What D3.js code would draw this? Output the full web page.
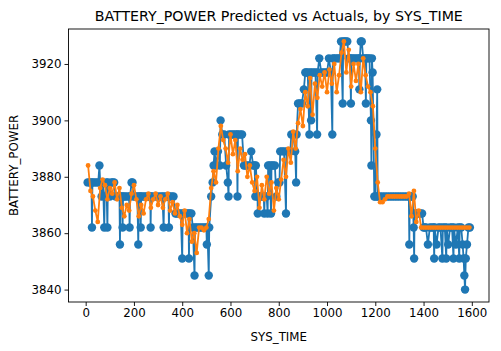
<!DOCTYPE html>
<html lang="en">
<head>
    <meta charset="UTF-8">
    <title>BATTERY_POWER Predicted vs Actuals</title>
</head>
<style>
    body { margin: 0; background: #fff; }
    text { font-family: "DejaVu Sans", sans-serif; fill: #000; }
</style>
<script src="https://cdn.jsdelivr.net/npm/d3@7"></script>
<body>
    <div id="graphic"></div>
</body>
<script>
    // actual BATTERY_POWER (blue)
    var actualTime = [
        8, 16, 24, 26, 28, 36, 44, 52, 57, 60,
        66, 72, 77, 79, 86, 90, 92, 100, 106, 112,
        118, 124, 132, 140, 142, 144, 150, 153, 155, 162,
        170, 180, 182, 184, 190, 194, 198, 206, 214, 218,
        220, 226, 228, 230, 238, 246, 254, 262, 268, 269,
        271, 280, 290, 300, 310, 318, 323, 325, 334, 343,
        345, 347, 356, 364, 372, 378, 386, 394, 400, 402,
        410, 418, 426, 428, 430, 438, 444, 451, 453, 460,
        468, 476, 484, 492, 500, 502, 504, 510, 512, 520,
        526, 530, 534, 540, 548, 556, 559, 566, 574, 582,
        589, 592, 594, 602, 610, 618, 626, 629, 631, 640,
        648, 656, 662, 670, 678, 686, 694, 700, 703, 705,
        712, 713, 715, 722, 730, 738, 740, 742, 750, 754,
        756, 762, 768, 770, 776, 784, 790, 798, 803, 806,
        814, 822, 830, 832, 840, 848, 852, 860, 868, 872,
        874, 880, 888, 896, 904, 910, 914, 920, 927, 929,
        934, 936, 944, 952, 959, 961, 968, 976, 984, 992,
        1000, 1008, 1016, 1022, 1024, 1030, 1038, 1046, 1052, 1058,
        1065, 1067, 1072, 1078, 1084, 1090, 1096, 1099, 1101, 1108,
        1116, 1124, 1132, 1134, 1136, 1140, 1144, 1150, 1158, 1161,
        1163, 1170, 1176, 1182, 1184, 1186, 1189, 1196, 1200, 1205,
        1208, 1210, 1212, 1220, 1230, 1240, 1250, 1260, 1270, 1280,
        1290, 1300, 1310, 1320, 1330, 1339, 1341, 1343, 1350, 1355,
        1359, 1361, 1363, 1370, 1378, 1386, 1394, 1400, 1405, 1410,
        1418, 1426, 1434, 1442, 1444, 1446, 1454, 1462, 1470, 1478,
        1480, 1488, 1494, 1496, 1502, 1510, 1518, 1524, 1526, 1534,
        1542, 1548, 1550, 1556, 1562, 1566, 1569, 1572, 1575, 1580,
        1586, 1592
    ];
    var actualPower = [
        3878, 3878, 3878, 3862, 3878, 3878, 3878, 3878, 3884, 3878,
        3873, 3878, 3862, 3873, 3878, 3862, 3878, 3873, 3878, 3878,
        3878, 3873, 3873, 3873, 3856, 3873, 3873, 3862, 3873, 3873,
        3873, 3873, 3862, 3873, 3878, 3878, 3873, 3873, 3873, 3856,
        3873, 3873, 3862, 3873, 3873, 3873, 3873, 3873, 3873, 3862,
        3873, 3873, 3873, 3873, 3873, 3873, 3862, 3873, 3873, 3873,
        3862, 3873, 3873, 3873, 3867, 3867, 3867, 3867, 3851, 3867,
        3867, 3867, 3867, 3851, 3867, 3867, 3862, 3845, 3862, 3862,
        3862, 3862, 3862, 3862, 3862, 3856, 3862, 3845, 3862, 3873,
        3878, 3884, 3889, 3884, 3889, 3884, 3900, 3895, 3895, 3884,
        3878, 3873, 3895, 3895, 3895, 3895, 3895, 3873, 3895, 3895,
        3895, 3884, 3884, 3884, 3884, 3889, 3884, 3884, 3873, 3884,
        3873, 3867, 3873, 3873, 3873, 3873, 3867, 3873, 3873, 3867,
        3884, 3884, 3867, 3884, 3884, 3884, 3873, 3878, 3878, 3889,
        3889, 3889, 3867, 3889, 3889, 3889, 3895, 3895, 3889, 3878,
        3895, 3906, 3906, 3906, 3911, 3917, 3917, 3917, 3895, 3917,
        3900, 3917, 3917, 3917, 3895, 3917, 3922, 3917, 3917, 3917,
        3917, 3922, 3917, 3895, 3922, 3922, 3922, 3922, 3922, 3928,
        3906, 3928, 3928, 3928, 3928, 3922, 3922, 3906, 3922, 3922,
        3922, 3922, 3922, 3911, 3922, 3928, 3928, 3922, 3922, 3906,
        3922, 3922, 3922, 3900, 3884, 3922, 3917, 3873, 3873, 3895,
        3911, 3873, 3873, 3873, 3873, 3873, 3873, 3873, 3873, 3873,
        3873, 3873, 3873, 3873, 3873, 3873, 3856, 3873, 3873, 3873,
        3862, 3851, 3867, 3867, 3867, 3867, 3867, 3862, 3862, 3862,
        3856, 3862, 3862, 3862, 3851, 3862, 3856, 3862, 3862, 3851,
        3862, 3862, 3851, 3862, 3856, 3862, 3862, 3851, 3862, 3856,
        3862, 3851, 3862, 3862, 3856, 3851, 3845, 3840, 3851, 3856,
        3862, 3862
    ];

    // predicted BATTERY_POWER (orange)
    var predictedTime = [
        10, 20, 30, 40, 50, 60, 70, 80, 90, 100,
        110, 120, 130, 140, 150, 160, 170, 180, 190, 200,
        210, 220, 230, 240, 250, 260, 270, 280, 290, 300,
        310, 320, 330, 340, 350, 360, 370, 380, 390, 400,
        410, 420, 430, 440, 450, 460, 470, 480, 490, 500,
        510, 520, 530, 540, 550, 560, 570, 580, 590, 600,
        610, 620, 630, 640, 650, 660, 670, 680, 690, 700,
        710, 720, 730, 740, 750, 760, 770, 780, 790, 800,
        810, 820, 830, 840, 850, 860, 870, 880, 890, 900,
        910, 920, 930, 940, 950, 960, 970, 980, 990, 1000,
        1010, 1020, 1030, 1040, 1050, 1060, 1070, 1080, 1090, 1100,
        1110, 1120, 1130, 1140, 1150, 1160, 1170, 1180, 1190, 1200,
        1210, 1220, 1230, 1240, 1250, 1260, 1270, 1280, 1290, 1300,
        1310, 1320, 1330, 1340, 1350, 1360, 1370, 1380, 1390, 1400,
        1410, 1420, 1430, 1440, 1450, 1460, 1470, 1480, 1490, 1500,
        1510, 1520, 1530, 1540, 1550, 1560, 1570, 1580, 1590
    ];
    var predictedPower = [
        3884, 3875, 3873, 3868, 3864, 3876, 3879, 3877, 3872, 3876,
        3874, 3878, 3872, 3876, 3869, 3866, 3870, 3868, 3874, 3877,
        3872, 3866, 3870, 3867, 3872, 3874, 3869, 3872, 3874, 3870,
        3873, 3869, 3872, 3874, 3868, 3871, 3867, 3870, 3866, 3863,
        3868, 3860, 3865, 3857, 3860, 3853, 3862, 3862, 3861, 3862,
        3865, 3876, 3882, 3878, 3890, 3898, 3893, 3890, 3885, 3895,
        3888, 3893, 3882, 3890, 3886, 3888, 3880, 3884, 3878, 3875,
        3880, 3869, 3877, 3872, 3880, 3874, 3878, 3868, 3876, 3872,
        3879, 3886, 3880, 3890, 3885, 3896, 3890, 3899, 3904, 3898,
        3910, 3905, 3915, 3902, 3913, 3908, 3916, 3912, 3917, 3910,
        3918, 3913, 3920, 3910, 3916, 3924, 3928, 3917, 3925, 3912,
        3920, 3914, 3920, 3910, 3922, 3916, 3912, 3910, 3905, 3890,
        3878, 3871, 3871, 3872, 3873, 3873, 3873, 3873, 3873, 3873,
        3873, 3873, 3873, 3874, 3866, 3875, 3864, 3868, 3862, 3862,
        3862, 3862, 3862, 3862, 3862, 3862, 3862, 3862, 3862, 3862,
        3862, 3862, 3862, 3862, 3862, 3862, 3862, 3862, 3862
    ];

    var xTicks = [0, 200, 400, 600, 800, 1000, 1200, 1400, 1600];
    var yTicks = [3840, 3860, 3880, 3900, 3920];

    var width = 501;
    var height = 351;
    var plotLeft = 68.5, plotRight = 489, plotTop = 29, plotBottom = 302;

    var actual = actualTime.map(function(t, i) { return { t: t, v: actualPower[i] }; });
    var predicted = predictedTime.map(function(t, i) { return { t: t, v: predictedPower[i] }; });

    // matplotlib style 5% margins
    function padded(ext) {
        var p = (ext[1] - ext[0]) * 0.05;
        return [ext[0] - p, ext[1] + p];
    }

    var x = d3.scaleLinear()
              .domain(padded(d3.extent(actualTime.concat(predictedTime))))
              .range([plotLeft, plotRight]);
    var y = d3.scaleLinear()
              .domain(padded(d3.extent(actualPower.concat(predictedPower))))
              .range([plotBottom, plotTop]);

    var svg = d3.select('#graphic')
                .append('svg')
                .attr('width', width)
                .attr('height', height);

    svg.append('defs').append('clipPath')
       .attr('id', 'plot-clip')
       .append('rect')
       .attr('x', plotLeft).attr('y', plotTop)
       .attr('width', plotRight - plotLeft).attr('height', plotBottom - plotTop);

    var plot = svg.append('g').attr('clip-path', 'url(#plot-clip)');

    var line = d3.line()
                 .x(function(d) { return x(d.t); })
                 .y(function(d) { return y(d.v); });

    // actuals: line + big round markers
    plot.append('path')
        .datum(actual)
        .attr('d', line)
        .attr('fill', 'none')
        .attr('stroke', '#1f77b4')
        .attr('stroke-width', 1.8)
        .attr('stroke-linejoin', 'round');

    plot.selectAll('.actual-dot')
        .data(actual)
        .join('circle')
        .attr('class', 'actual-dot')
        .attr('cx', function(d) { return x(d.t); })
        .attr('cy', function(d) { return y(d.v); })
        .attr('r', 4.2)
        .attr('fill', '#1f77b4');

    // predictions: line + small markers
    plot.append('path')
        .datum(predicted)
        .attr('d', line)
        .attr('fill', 'none')
        .attr('stroke', '#ff7f0e')
        .attr('stroke-width', 1.8)
        .attr('stroke-linejoin', 'round');

    plot.selectAll('.pred-dot')
        .data(predicted)
        .join('circle')
        .attr('class', 'pred-dot')
        .attr('cx', function(d) { return x(d.t); })
        .attr('cy', function(d) { return y(d.v); })
        .attr('r', 2.4)
        .attr('fill', '#ff7f0e');

    // axes
    var xAxis = svg.append('g')
                   .attr('transform', 'translate(0,' + plotBottom + ')')
                   .call(d3.axisBottom(x).tickValues(xTicks).tickFormat(d3.format('d')).tickSize(4).tickPadding(3));
    var yAxis = svg.append('g')
                   .attr('transform', 'translate(' + plotLeft + ',0)')
                   .call(d3.axisLeft(y).tickValues(yTicks).tickFormat(d3.format('d')).tickSize(4).tickPadding(3));

    [xAxis, yAxis].forEach(function(a) {
        a.select('.domain').remove();
        a.selectAll('text').style('font-size', '11.8px').style('font-family', '"DejaVu Sans", sans-serif').attr('fill', '#000');
        a.selectAll('line').attr('stroke', '#000').attr('stroke-width', 0.9);
    });

    // frame
    svg.append('rect')
       .attr('x', plotLeft).attr('y', plotTop)
       .attr('width', plotRight - plotLeft).attr('height', plotBottom - plotTop)
       .attr('fill', 'none')
       .attr('stroke', '#000')
       .attr('stroke-width', 0.9);

    // labels
    svg.append('text')
       .attr('x', (plotLeft + plotRight) / 2)
       .attr('y', 21)
       .attr('text-anchor', 'middle')
       .style('font-size', '14.2px')
       .text('BATTERY_POWER Predicted vs Actuals, by SYS_TIME');

    svg.append('text')
       .attr('x', (plotLeft + plotRight) / 2)
       .attr('y', 341)
       .attr('text-anchor', 'middle')
       .style('font-size', '11.8px')
       .text('SYS_TIME');

    svg.append('text')
       .attr('transform', 'translate(18,' + (plotTop + plotBottom) / 2 + ') rotate(-90)')
       .attr('text-anchor', 'middle')
       .style('font-size', '11.8px')
       .text('BATTERY_POWER');
</script>
</html>
